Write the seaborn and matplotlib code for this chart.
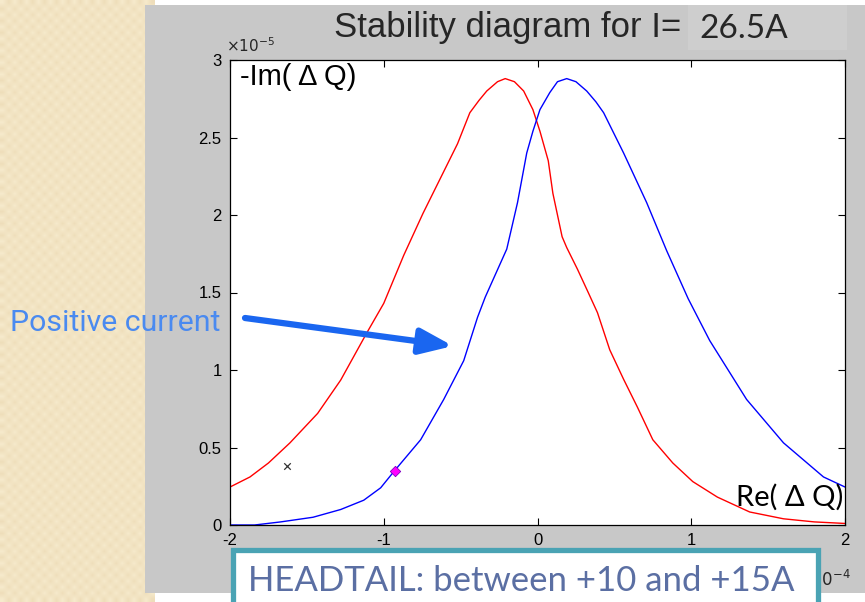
import numpy as np
import pandas as pd
import matplotlib
matplotlib.use("Agg")
import matplotlib.pyplot as plt
from matplotlib.patches import Rectangle
import seaborn as sns

# ---------------- data (y in units of 1e-5, x in units of 1e-4) ----------------
red_x = [-2.0, -1.87, -1.75, -1.61, -1.43, -1.28, -1.11, -1.0, -0.87, -0.745, -0.615, -0.52,
         -0.44, -0.38, -0.33, -0.26, -0.21, -0.15, -0.09, -0.03, 0.016, 0.07, 0.10, 0.16,
         0.19, 0.26, 0.33, 0.39, 0.47, 0.56, 0.65, 0.75, 0.88, 1.01, 1.17, 1.38, 1.60, 1.80, 2.0]
red_y = [0.245, 0.31, 0.40, 0.53, 0.72, 0.935, 1.24, 1.43, 1.74, 2.01, 2.27, 2.46,
         2.66, 2.74, 2.80, 2.86, 2.88, 2.86, 2.80, 2.68, 2.54, 2.35, 2.14, 1.86,
         1.79, 1.65, 1.50, 1.37, 1.13, 0.94, 0.76, 0.55, 0.40, 0.28, 0.18, 0.084, 0.04, 0.02, 0.01]
blue_x = [-2.0, -1.84, -1.67, -1.46, -1.28, -1.13, -1.02, -0.93, -0.76, -0.61, -0.48, -0.39,
          -0.34, -0.20, -0.13, -0.07, -0.03, 0.016, 0.08, 0.13, 0.19, 0.25, 0.32, 0.38, 0.43,
          0.56, 0.71, 0.84, 0.98, 1.12, 1.36, 1.60, 1.86, 2.0]
blue_y = [0.0, 0.0, 0.02, 0.05, 0.10, 0.16, 0.24, 0.35, 0.55, 0.81, 1.06, 1.34,
          1.47, 1.78, 2.08, 2.40, 2.54, 2.68, 2.79, 2.86, 2.88, 2.86, 2.80, 2.73, 2.66,
          2.40, 2.08, 1.77, 1.46, 1.19, 0.81, 0.53, 0.31, 0.245]
cross_pt = (-1.63, 0.38)
diamond_pt = (-0.93, 0.35)
x_ticks = [-2, -1, 0, 1, 2]
x_ticklabels = ["-2", "-1", "0", "1", "2"]
y_ticks = [0, 0.5, 1, 1.5, 2, 2.5, 3]
y_ticklabels = ["0", "0.5", "1", "1.5", "2", "2.5", "3"]

title_text = "Stability diagram for I="
current_text = "26.5A"
ylabel_text = "-Im( Δ Q)"
xlabel_text = "Re( Δ Q)"
note_text = "Positive current"
box_text = "HEADTAIL: between +10 and +15A"

df = pd.concat([
    pd.DataFrame({"x": red_x, "y": red_y, "s": "red"}),
    pd.DataFrame({"x": blue_x, "y": blue_y, "s": "blue"}),
], ignore_index=True)

# ---------------- figure ----------------
sns.set_style("ticks")
plt.rcParams["font.family"] = ["Liberation Sans", "DejaVu Sans"]

W, H = 865, 602
fig = plt.figure(figsize=(W / 100, H / 100), dpi=100)
fig.patch.set_facecolor("white")

# beige textured strip on the left
bg = fig.add_axes([0, 0, 155 / W, 1])
bg.set_axis_off()
cell = 6
ny, nx = H // cell + 1, 155 // cell + 1
yy, xx = np.mgrid[0:ny, 0:nx]
c1 = np.array([0.965, 0.918, 0.800])
c2 = np.array([0.935, 0.870, 0.730])
pat = np.where(((xx + yy) % 2 == 0)[..., None], c1, c2)
bg.imshow(pat, aspect="auto", interpolation="bilinear", extent=[0, 1, 0, 1])
bg.set_xlim(0, 1)
bg.set_ylim(0, 1)

# grey MATLAB figure background
fig.add_artist(Rectangle((145 / W, 9 / H), (W - 145) / W, (593 - 5) / H,
                         transform=fig.transFigure, facecolor="#c8c8c8",
                         edgecolor="none", zorder=0.5))
# lighter box behind current value
fig.add_artist(Rectangle((688 / W, (H - 50) / H), 159 / W, 45 / H,
                         transform=fig.transFigure, facecolor="#cecece",
                         edgecolor="none", zorder=0.6))

ax = fig.add_axes([230 / W, (H - 525) / H, 615 / W, 465 / H])
ax.set_facecolor("white")
ax.set_zorder(1)

sns.lineplot(data=df, x="x", y="y", hue="s", palette={"red": "#ff0000", "blue": "#0000ff"},
             sort=False, estimator=None, linewidth=1.0, legend=False, ax=ax)
sns.scatterplot(x=[cross_pt[0]], y=[cross_pt[1]], marker="x", s=22, color="#333333",
                linewidth=0.9, ax=ax, legend=False)
sns.scatterplot(x=[diamond_pt[0]], y=[diamond_pt[1]], marker="D", s=28, color="#ff00ff",
                edgecolor="#8000c0", linewidth=0.6, ax=ax, legend=False, zorder=5)

ax.set_xlim(-2, 2)
ax.set_ylim(0, 3)
ax.set_xticks(x_ticks)
ax.set_xticklabels(x_ticklabels)
ax.set_yticks(y_ticks)
ax.set_yticklabels(y_ticklabels)
ax.tick_params(direction="in", length=5, width=0.8, top=True, right=True,
               labelsize=12, colors="black", pad=6)
for sp in ax.spines.values():
    sp.set_visible(True)
    sp.set_color("black")
    sp.set_linewidth(0.9)
ax.set_xlabel("")
ax.set_ylabel("")

ax.text(0.016, 0.993, ylabel_text, transform=ax.transAxes, ha="left", va="top",
        fontsize=21, color="black")
ax.text(0.997, 0.042, xlabel_text, transform=ax.transAxes, ha="right", va="baseline",
        fontsize=21, color="black", family=["Lato", "DejaVu Sans"])

# exponent labels
fig.text(226 / W, (H - 46) / H, r"$\times10^{-5}$", fontsize=11, ha="left", va="center")
fig.text(797 / W, (H - 579) / H, r"$\times10^{-4}$", fontsize=12, ha="left", va="center",
         zorder=1.5)

# title
fig.text(508 / W, (H - 28) / H, title_text, fontsize=25, ha="center", va="center", zorder=2)
fig.text(699 / W, (H - 29) / H, current_text, fontsize=24, ha="left", va="center",
         family=["Lato", "DejaVu Sans"], zorder=2)

# annotation text and arrow
fig.text(10 / W, (H - 323) / H, note_text, fontsize=21.8, ha="left", va="center",
         color="#4a8af0", family=["Roboto", "DejaVu Sans"], zorder=3)
ax.annotate("", xy=(453, H - 346), xycoords="figure pixels",
            xytext=(245, H - 318), textcoords="figure pixels",
            arrowprops=dict(arrowstyle="-|>,head_length=0.9,head_width=0.35",
                            lw=4.5, color="#1a66f0", shrinkA=0, shrinkB=0,
                            mutation_scale=22),
            zorder=10, annotation_clip=False)

# HEADTAIL box
fig.add_artist(Rectangle((232.5 / W, -0.05), 585 / W, 0.05 + (H - 549.5) / H,
                         transform=fig.transFigure, facecolor="white",
                         edgecolor="#4aa3b4", linewidth=3.8, zorder=4))
fig.text(248 / W, (H - 591) / H, box_text, fontsize=25, ha="left", va="baseline",
         color="#5b6fa3", family=["Lato", "DejaVu Sans"], zorder=5)

fig.savefig("out.png", dpi=100)
